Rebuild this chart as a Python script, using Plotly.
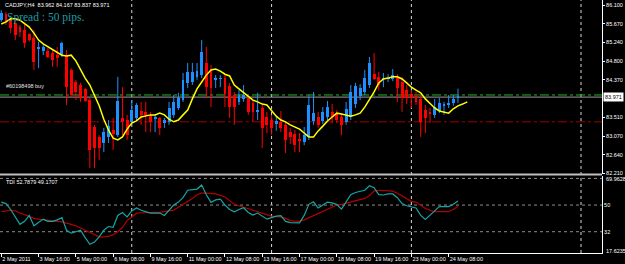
import plotly.graph_objects as go

symbol = "CADJPY"
timeframe = "H4"
order_label = "#60198498 buy"
spread_text = "Spread : 50 pips."

opens = [85.75, 85.89, 85.75, 85.68, 85.59, 85.52, 85.43, 85.34, 85.08, 85.04,
         85.04, 84.99, 84.94, 84.94, 84.94, 84.60, 84.32, 84.25, 84.16, 83.90,
         83.28, 83.05, 82.91, 83.05, 83.21, 83.09, 83.49, 83.44, 83.40, 83.49,
         83.65, 83.63, 83.56, 83.46, 83.49, 83.37, 83.40, 83.56, 83.72, 83.90,
         84.30, 84.32, 84.44, 84.48, 84.76, 84.60, 84.37, 84.39, 84.41, 84.23,
         84.02, 83.86, 83.93, 83.97, 83.83, 83.63, 83.72, 83.51, 83.44, 83.35,
         83.40, 83.33, 83.16, 83.12, 83.00, 82.93, 83.05, 83.42, 83.51, 83.42,
         83.51, 83.63, 83.58, 83.51, 83.40, 83.51, 83.81, 84.00, 84.09, 84.25,
         84.50, 84.44, 84.39, 84.39, 84.39, 84.44, 84.32, 84.13, 84.04, 84.00,
         83.93, 83.67, 83.63, 83.56, 83.65, 83.77, 83.79, 83.83, 83.962]
highs = [85.98, 85.94, 85.80, 85.75, 85.64, 85.68, 85.45, 85.52, 85.25, 85.18,
         85.11, 85.06, 85.13, 85.25, 85.06, 84.64, 84.37, 84.30, 84.18, 83.95,
         83.33, 83.09, 83.26, 83.44, 83.49, 84.44, 84.20, 83.56, 83.90, 83.83,
         83.86, 83.86, 83.63, 83.56, 83.51, 83.49, 83.86, 84.02, 84.07, 84.53,
         84.76, 84.76, 84.76, 85.29, 85.13, 84.71, 84.48, 84.48, 84.48, 84.30,
         84.09, 84.13, 84.25, 84.02, 83.90, 84.07, 83.79, 83.63, 83.56, 83.51,
         83.65, 83.40, 83.26, 83.21, 83.14, 83.28, 84.02, 84.09, 83.63, 83.74,
         83.88, 83.81, 83.67, 83.60, 83.86, 84.25, 84.30, 84.27, 84.60, 84.90,
         84.99, 84.55, 84.53, 84.50, 84.62, 84.50, 84.44, 84.25, 84.13, 84.09,
         84.02, 83.79, 83.72, 83.93, 83.95, 83.86, 84.02, 84.02, 84.167]
lows = [85.71, 85.64, 85.45, 85.29, 85.36, 85.11, 85.25, 84.60, 84.64, 84.94,
        84.87, 84.67, 84.67, 84.90, 83.79, 83.97, 83.90, 83.86, 83.86, 82.33,
        82.33, 82.52, 82.70, 82.91, 82.75, 83.05, 83.09, 82.98, 83.33, 83.44,
        83.33, 83.16, 83.16, 83.16, 83.09, 83.26, 83.33, 83.49, 83.67, 83.86,
        84.18, 84.25, 84.37, 84.41, 83.95, 83.74, 84.18, 84.20, 83.74, 83.49,
        83.33, 83.79, 83.86, 83.56, 83.40, 83.44, 82.79, 83.14, 83.09, 83.19,
        83.16, 82.68, 82.89, 82.70, 82.70, 82.86, 82.98, 83.33, 83.26, 83.35,
        83.44, 83.37, 83.37, 83.09, 83.33, 83.44, 83.72, 83.90, 84.02, 84.18,
        84.37, 84.13, 84.20, 84.32, 84.34, 83.86, 83.63, 83.81, 83.72, 83.79,
        83.05, 83.14, 83.37, 83.49, 83.60, 83.56, 83.72, 83.77, 83.837]
closes = [85.92, 85.71, 85.57, 85.41, 85.48, 85.22, 85.29, 84.78, 85.13, 85.13,
          84.90, 84.83, 84.87, 85.22, 84.20, 84.02, 84.09, 83.95, 83.88, 82.75,
          82.79, 82.79, 83.16, 83.30, 83.12, 83.88, 83.40, 83.09, 83.67, 83.79,
          83.56, 83.56, 83.40, 83.51, 83.26, 83.44, 83.72, 83.86, 83.95, 84.37,
          84.55, 84.55, 84.57, 85.01, 84.20, 84.18, 84.39, 84.41, 84.04, 83.74,
          83.74, 84.02, 84.02, 83.63, 83.63, 83.67, 83.26, 83.33, 83.26, 83.42,
          83.26, 82.98, 83.05, 82.86, 82.96, 83.09, 83.79, 83.60, 83.33, 83.63,
          83.74, 83.51, 83.44, 83.33, 83.70, 84.09, 84.23, 84.18, 84.41, 84.76,
          84.39, 84.25, 84.41, 84.41, 84.48, 84.18, 83.95, 83.95, 83.95, 83.86,
          83.40, 83.49, 83.58, 83.74, 83.83, 83.81, 83.83, 83.93, 83.971]

# moving average (shifted two bars to the right of the last candle)
ma_values = [85.66, 85.71, 85.78, 85.78, 85.75, 85.68, 85.59, 85.45, 85.29, 85.20,
             85.13, 85.06, 84.99, 84.94, 84.92, 84.94, 84.81, 84.60, 84.41, 84.25,
             84.02, 83.77, 83.46, 83.21, 83.02, 82.98, 83.05, 83.23, 83.37, 83.42,
             83.51, 83.53, 83.56, 83.56, 83.60, 83.56, 83.46, 83.40, 83.44, 83.56,
             83.67, 83.93, 84.16, 84.32, 84.48, 84.60, 84.62, 84.57, 84.50, 84.46,
             84.25, 84.16, 84.07, 83.97, 83.90, 83.86, 83.81, 83.79, 83.67, 83.53,
             83.44, 83.40, 83.33, 83.28, 83.23, 83.14, 83.05, 83.05, 83.19, 83.30,
             83.42, 83.51, 83.60, 83.58, 83.56, 83.53, 83.56, 83.60, 83.74, 83.90,
             84.09, 84.30, 84.39, 84.41, 84.44, 84.44, 84.39, 84.30, 84.20, 84.13,
             84.07, 83.93, 83.83, 83.72, 83.65, 83.63, 83.60, 83.70, 83.77, 83.81,
             83.86]

tdi_price = [52.0, 51.0, 47.0, 42.0, 37.0, 39.0, 43.0, 36.0, 38.0, 40.5,
             39.0, 39.0, 40.0, 41.5, 33.0, 31.0, 32.0, 33.0, 28.0, 23.5,
             25.0, 28.5, 33.0, 35.5, 35.0, 43.0, 45.0, 42.0, 46.0, 48.0,
             46.5, 45.5, 44.6, 44.6, 44.6, 43.0, 46.5, 50.0, 52.0, 55.0,
             60.0, 60.3, 60.8, 63.5, 57.0, 51.8, 53.5, 54.0, 50.0, 47.0,
             45.5, 47.0, 48.2, 45.0, 43.2, 44.6, 42.5, 40.5, 41.5, 42.5,
             42.8, 39.0, 38.2, 38.0, 38.0, 43.0, 50.5, 52.2, 48.0, 50.0,
             52.0, 51.5, 50.3, 47.3, 52.0, 57.0, 58.5, 59.5, 60.0, 63.0,
             61.7, 57.0, 56.8, 57.5, 57.5, 55.0, 51.0, 49.5, 49.0, 48.0,
             43.0, 40.3, 43.2, 46.0, 49.0, 49.0, 49.0, 50.5, 52.7879]
tdi_signal = [45.5, 46.0, 46.6, 46.0, 44.8, 43.5, 42.5, 41.0, 40.5, 40.0,
              39.5, 39.2, 39.0, 38.6, 38.0, 37.0, 36.0, 34.5, 32.5, 31.0,
              29.5, 28.5, 28.5, 28.8, 30.0, 32.0, 35.0, 39.5, 42.0, 44.5,
              44.8, 45.0, 45.0, 45.0, 45.0, 45.5, 46.0, 46.6, 48.5, 50.5,
              52.0, 54.5, 57.0, 58.0, 58.0, 58.0, 57.5, 56.5, 55.5, 53.0,
              50.5, 49.5, 48.5, 47.5, 46.5, 45.3, 44.0, 43.0, 42.5, 42.2,
              42.0, 41.0, 39.5, 39.2, 39.2, 40.0, 41.5, 43.0, 44.5, 46.0,
              47.5, 49.0, 50.0, 50.5, 51.3, 52.0, 52.8, 53.5, 54.5, 56.5,
              59.4, 60.0, 59.8, 59.6, 59.4, 58.0, 56.0, 54.0, 52.5, 52.0,
              50.0, 47.7, 46.5, 45.5, 45.5, 45.5, 45.5, 47.0, 49.1707]
tdi_levels = [68, 50, 32]
tdi_max = 69.9628
tdi_min = 17.6235

tick_index = [0, 8, 16, 24, 32, 40, 48, 56, 64, 72, 80, 88, 96]
tick_labels = ["2 May 2011", "3 May 16:00", "5 May 00:00", "6 May 08:00",
               "9 May 16:00", "11 May 00:00", "12 May 08:00", "13 May 16:00",
               "17 May 00:00", "18 May 08:00", "19 May 16:00", "23 May 00:00",
               "24 May 08:00"]
price_ticks = [86.100, 85.670, 85.240, 84.800, 84.370, 83.510, 83.070, 82.640, 82.210]
week_separators = [28, 58, 88, 124.4]
buy_price = 84.02
stop_price = 83.40
bid_price = closes[-1]

W, H = 625, 264
PLOT_RIGHT = 602
MAIN_BOTTOM = 173.5
SUB_TOP = 175.5
SUB_BOTTOM = 253

n = len(opens)
idx = list(range(n))
up = [c >= o for o, c in zip(opens, closes)]
bull = "#1E90FF"
bear = "#FF0000"

fig = go.Figure()

# wicks
for flag, col in ((True, bull), (False, bear)):
    wx, wy = [], []
    for i in idx:
        if up[i] == flag:
            wx += [i, i, None]
            wy += [lows[i], highs[i], None]
    fig.add_trace(go.Scatter(x=wx, y=wy, mode="lines", line=dict(color=col, width=1),
                             xaxis="x", yaxis="y", hoverinfo="skip"))

# bodies
body_base = [min(o, c) for o, c in zip(opens, closes)]
body_len = [max(abs(c - o), 0.012) for o, c in zip(opens, closes)]
fig.add_trace(go.Bar(x=idx, y=body_len, base=body_base, width=0.62,
                     marker=dict(color=[bull if u else bear for u in up], line=dict(width=0)),
                     xaxis="x", yaxis="y"))

# moving average
fig.add_trace(go.Scatter(x=list(range(len(ma_values))), y=ma_values, mode="lines",
                         line=dict(color="#FFFF00", width=1.5), xaxis="x", yaxis="y"))

# TDI
fig.add_trace(go.Scatter(x=idx, y=tdi_signal, mode="lines",
                         line=dict(color="#B30000", width=1.2), xaxis="x2", yaxis="y2"))
fig.add_trace(go.Scatter(x=idx, y=tdi_price, mode="lines",
                         line=dict(color="#16A5A5", width=1.2), xaxis="x2", yaxis="y2"))

xr = [-1.3 / 4.66, (PLOT_RIGHT - 1.3) / 4.66]
xdom = [0, PLOT_RIGHT / W]
small = dict(family="Liberation Sans", size=5.5, color="#FFFFFF")

fig.update_layout(
    width=W, height=H, margin=dict(l=0, r=0, t=0, b=0, autoexpand=False),
    paper_bgcolor="#000000", plot_bgcolor="#000000", showlegend=False,
    bargap=0,
    xaxis=dict(domain=xdom, range=xr, showticklabels=False, showgrid=False,
               zeroline=False, anchor="y", ticks="", automargin=False),
    yaxis=dict(domain=[1 - MAIN_BOTTOM / H, 1], range=[86.216 - 0.02312 * MAIN_BOTTOM, 86.216],
               side="right", anchor="x", tickvals=price_ticks, automargin=False,
               ticktext=[f"{v:.3f}" for v in price_ticks], ticks="outside", ticklen=2,
               tickcolor="#FFFFFF", tickfont=small, showgrid=False, zeroline=False,
               showline=True, linecolor="#FFFFFF", linewidth=1),
    xaxis2=dict(domain=xdom, range=xr, matches="x", anchor="y2", tickvals=tick_index,
                ticktext=tick_labels, ticks="outside", ticklen=3, tickcolor="#FFFFFF",
                tickangle=0, automargin=False,
                ticklabelposition="outside right", tickfont=small, showgrid=False,
                zeroline=False, showline=True, linecolor="#FFFFFF", linewidth=1),
    yaxis2=dict(domain=[1 - SUB_BOTTOM / H, 1 - SUB_TOP / H], range=[tdi_min, tdi_max],
                side="right", anchor="x2", tickvals=[50, 32], ticktext=["50", "32"],
                ticks="", tickfont=small, showgrid=False, zeroline=False, automargin=False,
                showline=True, linecolor="#FFFFFF", linewidth=1),
)

shapes = []
# panel separator
shapes.append(dict(type="rect", xref="paper", yref="paper", x0=0, x1=PLOT_RIGHT / W,
                   y0=1 - SUB_TOP / H, y1=1 - MAIN_BOTTOM / H, fillcolor="#C0C0C0",
                   line=dict(width=0), layer="above"))
for s in week_separators:
    shapes.append(dict(type="line", xref="x", yref="paper", x0=s, x1=s,
                       y0=1 - SUB_BOTTOM / H, y1=1, line=dict(color="#D8D8D8", width=1, dash="dot"),
                       layer="below"))
for lv in tdi_levels:
    shapes.append(dict(type="line", xref="x2", yref="y2", x0=xr[0], x1=xr[1], y0=lv, y1=lv,
                       line=dict(color="#8C8C8C", width=1, dash="dot"), layer="below"))
shapes.append(dict(type="line", xref="x", yref="y", x0=xr[0], x1=xr[1], y0=bid_price, y1=bid_price,
                   line=dict(color="#9A9A9A", width=1), layer="below"))
shapes.append(dict(type="line", xref="x", yref="y", x0=xr[0], x1=xr[1], y0=buy_price, y1=buy_price,
                   line=dict(color="#22B522", width=1, dash="dashdot"), layer="below"))
shapes.append(dict(type="line", xref="x", yref="y", x0=xr[0], x1=xr[1], y0=stop_price, y1=stop_price,
                   line=dict(color="#A00000", width=1, dash="dashdot"), layer="below"))
fig.update_layout(shapes=shapes)

ann = []
title_txt = f"{symbol},{timeframe}  {opens[-1]:.3f} {highs[-1]:.3f} {lows[-1]:.3f} {closes[-1]:.3f}"
ann.append(dict(xref="paper", yref="paper", x=3 / W, y=1 - 5 / H, text=title_txt, showarrow=False,
                xanchor="left", yanchor="middle", font=dict(family="Liberation Sans", size=5.5, color="#FFFFFF")))
ann.append(dict(xref="paper", yref="paper", x=5 / W, y=1 - 18 / H, text=spread_text, showarrow=False,
                xanchor="left", yanchor="middle", font=dict(family="Liberation Serif", size=11.5, color="#1E9EA2")))
ann.append(dict(xref="paper", yref="y", x=4 / W, y=buy_price, yshift=4, text=order_label, showarrow=False,
                xanchor="left", yanchor="bottom", font=dict(family="Liberation Sans", size=5.5, color="#E0E0E0")))
ann.append(dict(xref="paper", yref="paper", x=4 / W, y=1 - 181.5 / H,
                text=f"TDI {tdi_price[-1]:.4f} {tdi_signal[-1]:.4f}", showarrow=False,
                xanchor="left", yanchor="middle", font=dict(family="Liberation Sans", size=5.5, color="#FFFFFF")))
ann.append(dict(xref="paper", yref="y", x=(PLOT_RIGHT + 1) / W, y=bid_price, text=f"{bid_price:.3f}",
                showarrow=False, xanchor="left", yanchor="middle", bgcolor="#FFFFFF",
                font=dict(family="Liberation Sans", size=5.5, color="#000000"), borderpad=1))
ann.append(dict(xref="paper", yref="paper", x=(PLOT_RIGHT + 2) / W, y=1 - 179 / H, text=f"{tdi_max:.4f}",
                showarrow=False, xanchor="left", yanchor="middle", font=small))
ann.append(dict(xref="paper", yref="paper", x=(PLOT_RIGHT + 2) / W, y=1 - 250.5 / H, text=f"{tdi_min:.4f}",
                showarrow=False, xanchor="left", yanchor="middle", font=small))
fig.update_layout(annotations=ann)

fig.write_html("out.html")
